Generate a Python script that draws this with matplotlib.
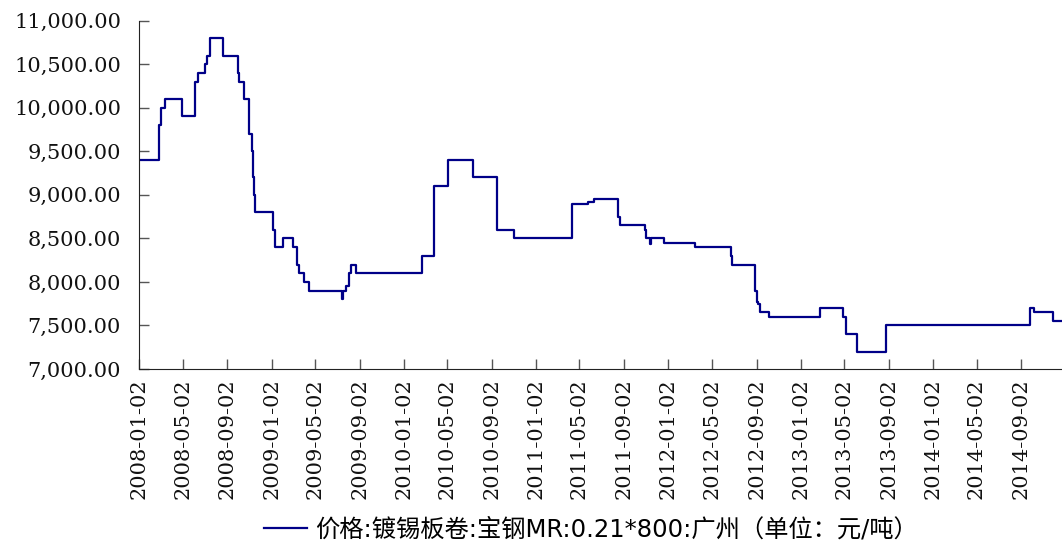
import matplotlib
matplotlib.use("Agg")
import matplotlib.pyplot as plt
import matplotlib.dates as mdates
import matplotlib.ticker as mticker
import pandas as pd

# step changes: date on which the price changes, and the new price
change_dates = [
    "2008-01-02", "2008-02-27", "2008-03-03", "2008-03-15", "2008-04-30",
    "2008-06-05", "2008-06-13", "2008-07-02", "2008-07-07", "2008-07-16",
    "2008-08-21", "2008-10-01", "2008-10-05", "2008-10-19", "2008-11-01",
    "2008-11-08", "2008-11-13", "2008-11-15", "2008-11-17", "2009-01-06",
    "2009-01-11", "2009-02-03", "2009-03-03", "2009-03-12", "2009-03-19",
    "2009-04-02", "2009-04-16", "2009-07-14", "2009-07-18", "2009-07-27",
    "2009-08-05", "2009-08-10", "2009-08-24", "2010-02-22", "2010-03-26",
    "2010-05-04", "2010-07-12", "2010-09-16", "2010-11-01", "2011-04-10",
    "2011-05-25", "2011-06-12", "2011-08-17", "2011-08-22", "2011-10-30",
    "2011-11-01", "2011-11-14", "2011-11-16", "2011-12-22", "2012-03-16",
    "2012-06-23", "2012-06-26", "2012-08-28", "2012-09-02", "2012-09-07",
    "2012-09-11", "2012-10-07", "2013-02-25", "2013-04-28", "2013-05-08",
    "2013-06-06", "2013-08-25", "2014-09-27", "2014-10-08", "2014-11-30",
    "2014-12-24",
]
prices = [
    9400, 9800, 10000, 10100, 9900,
    10300, 10400, 10500, 10600, 10800,
    10600, 10400, 10300, 10100, 9700,
    9500, 9200, 9000, 8800, 8600,
    8400, 8500, 8400, 8200, 8100,
    8000, 7900, 7800, 7900, 7950,
    8100, 8200, 8100, 8300, 9100,
    9400, 9200, 8600, 8500, 8900,
    8920, 8950, 8750, 8650, 8600,
    8500, 8440, 8500, 8450, 8400,
    8300, 8200, 7900, 7770, 7750,
    7650, 7600, 7700, 7600, 7400,
    7200, 7500, 7700, 7650, 7550,
    7550,
]
tick_dates = [
    "2008-01-02", "2008-05-02", "2008-09-02", "2009-01-02", "2009-05-02",
    "2009-09-02", "2010-01-02", "2010-05-02", "2010-09-02", "2011-01-02",
    "2011-05-02", "2011-09-02", "2012-01-02", "2012-05-02", "2012-09-02",
    "2013-01-02", "2013-05-02", "2013-09-02", "2014-01-02", "2014-05-02",
    "2014-09-02",
]
y_ticks = [7000, 7500, 8000, 8500, 9000, 9500, 10000, 10500, 11000]
series_name = "价格:镀锡板卷:宝钢MR:0.21*800:广州（单位：元/吨）"

dates = pd.to_datetime(change_dates)
ticks = pd.to_datetime(tick_dates)

plt.rcParams["font.family"] = ["DejaVu Serif"]

fig = plt.figure(figsize=(10.62, 5.48), dpi=100)
ax = fig.add_axes([0.1309, 0.3266, 0.8691, 0.6356])

ax.step(dates, prices, where="post", color="#000088", linewidth=1.6, label=series_name)

ax.set_xlim(dates[0], dates[-1])
ax.set_ylim(7000, 11000)
ax.set_yticks(y_ticks)
ax.yaxis.set_major_formatter(mticker.FuncFormatter(lambda v, p: f"{v:,.2f}"))
ax.set_xticks(ticks)
ax.xaxis.set_major_formatter(mdates.DateFormatter("%Y-%m-%d"))

ax.tick_params(axis="both", direction="in", length=7, width=1, color="#555555",
               labelsize=15, labelcolor="#111111")
ax.tick_params(axis="x", pad=7, labelrotation=90)
ax.tick_params(axis="y", pad=13)
ax.spines["top"].set_visible(False)
ax.spines["right"].set_visible(False)
ax.spines["left"].set_color("#222222")
ax.spines["bottom"].set_color("#222222")

fig.legend(loc="center", bbox_to_anchor=(0.556, 0.033), frameon=False,
           prop={"family": ["DejaVu Sans", "Noto Sans CJK SC"], "size": 17.5},
           handlelength=1.8, handletextpad=0.3)

fig.savefig("out.png", dpi=100)
